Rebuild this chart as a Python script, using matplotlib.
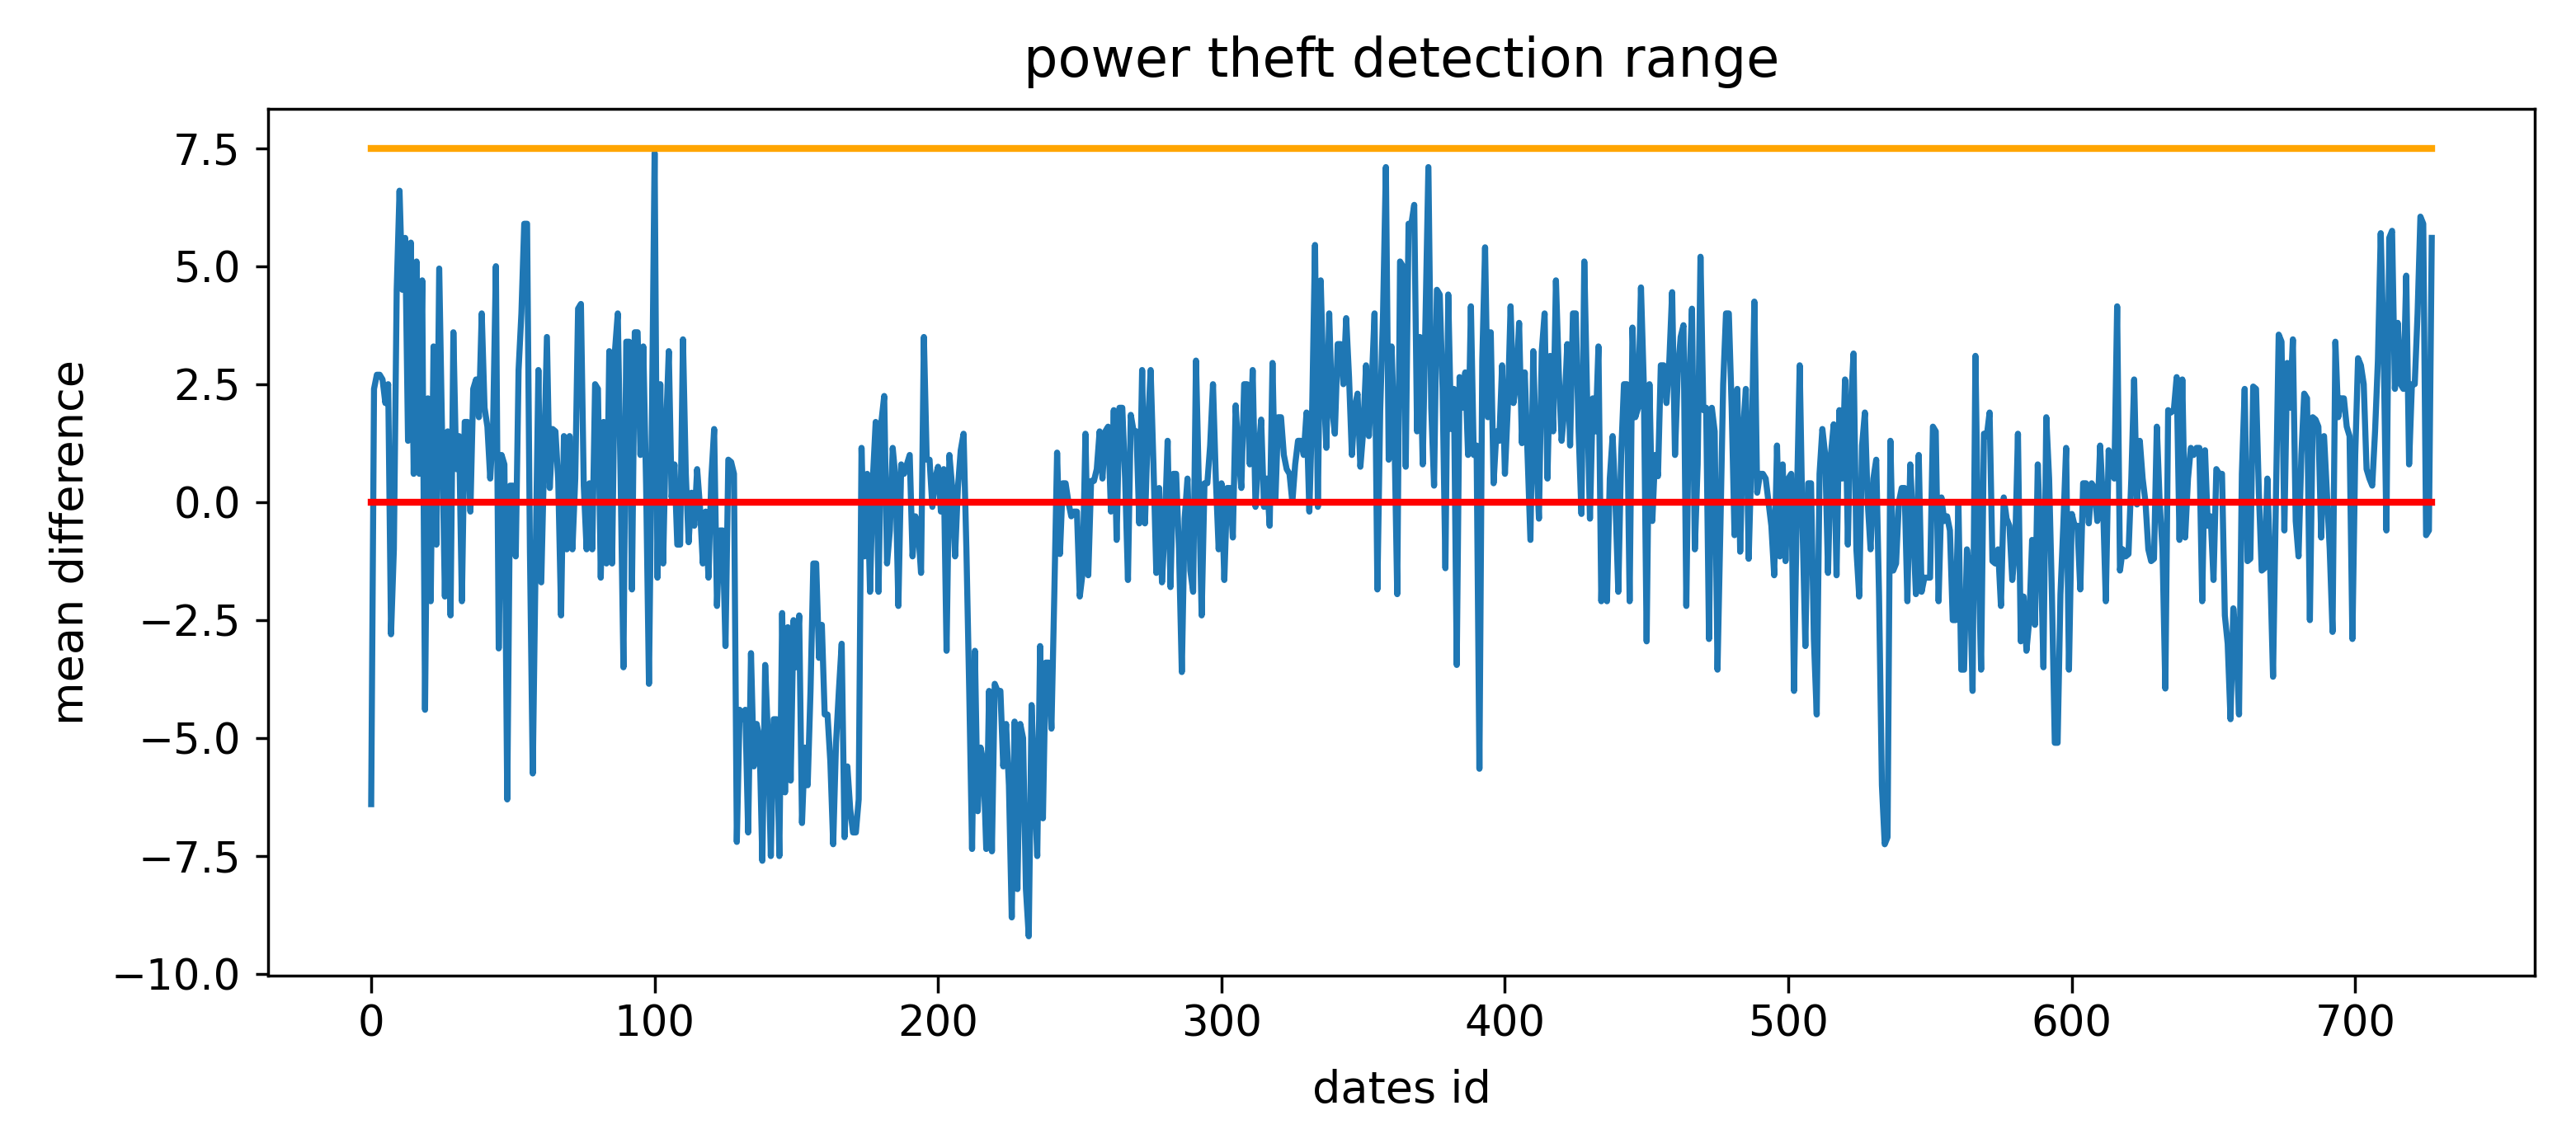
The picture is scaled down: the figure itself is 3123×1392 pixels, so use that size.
import matplotlib
matplotlib.use("Agg")
import matplotlib.pyplot as plt

# mean difference per date id (728 points)
mean_diff = [
    # 0 - 91
    -6.4, 2.4, 2.7, 2.7, 2.6, 2.1, 2.5, -2.8, -1.0, 4.5,
    6.6, 4.5, 5.6, 1.3, 5.5, 0.6, 5.1, 0.6, 4.7, -4.4,
    2.2, -2.1, 3.3, -0.9, 4.95, 1.5, -2.0, 1.5, -2.4, 3.6,
    0.7, 1.4, -2.1, 1.7, 1.7, -0.2, 2.4, 2.6, 1.8, 4.0,
    2.0, 1.6, 0.5, 1.6, 5.0, -3.1, 1.0, 0.8, -6.3, 0.35,
    0.35, -1.15, 2.8, 4.0, 5.9, 5.9, -1.0, -5.75, -1.3, 2.8,
    -1.7, 0.9, 3.5, 0.3, 1.55, 1.5, 0.45, -2.4, 1.4, -1.0,
    1.4, -1.0, 0.5, 4.1, 4.2, 0.35, -1.0, 0.4, -1.0, 2.5,
    2.4, -1.6, 1.7, -1.3, 3.2, -1.3, 3.2, 4.0, 0.5, -3.5,
    3.4, 3.4,
    # 92 - 183
    -1.85, 3.6, 3.6, 1.0, 3.3, 0.35, -3.85, 1.5, 7.4, -1.6,
    2.5, -1.3, 1.5, 3.2, 0.1, 0.8, -0.9, -0.9, 3.45, 0.6,
    -0.85, 0.2, -0.5, 0.7, -0.1, -1.3, -0.2, -1.6, 0.5, 1.55,
    -2.2, -0.6, -0.6, -3.05, 0.9, 0.85, 0.6, -7.2, -4.4, -4.6,
    -4.4, -7.0, -3.2, -5.6, -4.7, -5.0, -7.6, -3.45, -5.0, -7.5,
    -4.6, -4.6, -7.5, -2.35, -6.15, -2.65, -5.9, -2.5, -3.5, -2.4,
    -6.8, -5.2, -6.0, -4.0, -1.3, -1.3, -3.3, -2.6, -4.5, -4.5,
    -5.5, -7.25, -5.1, -4.0, -3.0, -7.1, -5.6, -6.5, -7.0, -7.0,
    -6.3, 1.15, -1.15, 0.6, -1.9, 0.5, 1.7, -1.9, 1.7, 2.25,
    -1.3, -0.6,
    # 184 - 272
    1.15, 0.5, -2.2, 0.8, 0.6, 0.8, 1.0, -1.15, -0.3, -0.6,
    -1.5, 3.5, 0.9, 0.9, -0.1, 0.5, 0.75, -0.2, 0.7, -3.15,
    1.0, 0.3, -1.15, 0.3, 1.1, 1.45, -1.0, -4.0, -7.35, -3.15,
    -6.55, -5.2, -5.5, -7.35, -4.0, -7.4, -3.85, -4.0, -4.0, -5.6,
    -4.7, -6.0, -8.8, -4.65, -8.2, -4.7, -5.0, -8.2, -9.2, -4.3,
    -6.0, -7.5, -3.05, -6.7, -3.4, -3.4, -4.8, -2.0, 1.05, -1.1,
    0.4, 0.4, 0.0, -0.3, -0.2, -0.2, -2.0, -1.5, 1.45, -1.55,
    0.45, 0.45, 0.7, 1.5, 0.5, 1.5, 1.6, -0.2, 1.95, -0.8,
    2.0, 2.0, 0.5, -1.65, 1.85, 1.5, 1.5, -0.45, 2.8,
    # 273 - 365
    -0.45, 1.5, 2.8, 0.8, -1.5, 0.3, -1.7, -0.5, 1.3, -1.8,
    0.6, 0.6, -1.0, -3.6, -0.35, 0.5, -1.45, -1.9, 3.0, 0.4,
    -2.4, 0.4, 0.4, 1.2, 2.5, 0.5, -1.0, 0.4, -1.65, 0.3,
    0.3, -0.75, 2.05, 1.0, 0.3, 2.5, 2.5, 0.8, 2.8, -0.1,
    1.0, 1.75, -0.1, 0.5, -0.5, 2.95, 0.0, 1.8, 1.8, 1.0,
    0.7, 0.6, 0.0, 0.8, 1.3, 1.3, 1.0, 1.9, -0.2, 2.0,
    5.45, -0.1, 4.7, 2.5, 1.15, 4.0, 2.0, 1.45, 3.35, 3.35,
    2.5, 3.9, 2.65, 1.0, 2.0, 2.3, 0.75, 1.5, 2.9, 1.4,
    2.5, 4.0, -1.85, 1.95, 4.0, 7.1, 0.9, 3.3, 1.5, -1.95,
    5.1, 5.0, 0.75,
    # 366 - 456
    5.9, 5.9, 6.3, 1.5, 3.5, 0.8, 4.0, 7.1, 2.0, 0.35,
    4.5, 4.4, 2.4, -1.4, 4.4, 1.55, 2.4, -3.45, 2.65, 2.0,
    2.75, 1.0, 4.15, 1.0, 1.2, -5.65, 3.0, 5.4, 1.8, 3.6,
    0.4, 1.5, 1.3, 2.9, 0.6, 2.0, 4.15, 2.1, 2.5, 3.8,
    1.25, 2.75, 1.0, -0.8, 3.2, 1.0, -0.35, 3.2, 4.0, 0.5,
    3.1, 1.5, 4.7, 2.75, 1.3, 2.0, 3.35, 1.2, 4.0, 4.0,
    1.5, -0.25, 5.1, 2.2, -0.35, 2.2, 1.5, 3.3, -2.1, 0.0,
    -2.1, 0.5, 1.4, 0.0, -1.9, 1.0, 2.5, 2.5, -2.1, 3.7,
    1.8, 2.0, 4.55, 2.5, -2.95, 2.5, -0.4, 1.0, 0.55, 2.9,
    2.9,
    # 457 - 547
    2.1, 3.0, 4.45, 1.0, 2.75, 3.5, 3.75, -2.2, 2.5, 4.1,
    -1.0, 0.8, 5.2, 1.95, 2.0, -2.9, 2.0, 1.5, -3.55, -0.6,
    2.5, 4.0, 4.0, 2.0, -0.7, 2.4, -1.05, 1.5, 2.4, -1.2,
    1.0, 4.25, 0.2, 0.6, 0.6, 0.5, 0.0, -0.5, -1.55, 1.2,
    -1.15, 0.8, -1.25, 0.5, 0.6, -4.0, 0.0, 2.9, -0.5, -3.05,
    0.4, 0.4, -2.9, -4.5, 0.6, 1.55, 1.0, -1.5, 1.0, 1.65,
    -1.55, 1.95, 0.5, 2.6, -0.9, 2.0, 3.15, -1.0, -2.0, 1.2,
    1.9, 0.0, -1.0, 0.5, 0.9, -2.0, -6.0, -7.25, -7.1, 1.3,
    -1.45, -1.3, 0.0, 0.3, 0.3, -2.1, 0.8, -0.5, -1.95, 1.0,
    -1.9,
    # 548 - 638
    -1.6, -1.6, -1.6, 1.6, 1.5, -2.1, 0.1, -0.4, -0.3, -0.6,
    -2.5, -2.5, 0.0, -3.55, -3.55, -1.0, -1.5, -4.0, 3.1, -1.0,
    -3.55, 1.45, 1.4, 1.9, -1.25, -1.3, -1.0, -2.2, 0.1, -0.35,
    -0.5, -1.65, -1.0, 1.45, -2.95, -2.0, -3.15, -2.5, -0.8, -2.6,
    0.8, -1.0, -3.5, 1.8, 0.5, -2.0, -5.1, -5.1, -1.95, -0.5,
    1.15, -3.55, -0.25, -0.5, -0.5, -1.85, 0.4, 0.4, -0.45, 0.4,
    0.3, -0.4, 1.2, 0.0, -2.1, 1.1, 0.7, 0.5, 4.15, -1.45,
    -1.0, -1.15, -1.1, 0.5, 2.6, -0.05, 1.3, 0.5, 0.0, -1.0,
    -1.25, -1.2, 1.6, 0.0, -1.0, -3.95, 1.95, 1.9, 1.95, 2.65,
    -0.8,
    # 639 - 727
    2.6, -0.75, 0.5, 1.15, 1.0, 1.15, 1.15, -2.1, 1.1, -0.5,
    -0.3, -1.65, 0.7, 0.6, 0.6, -2.4, -3.0, -4.6, -2.25, -3.0,
    -4.5, 0.6, 2.4, -1.25, -1.2, 2.45, 2.4, 0.2, -1.45, -1.4,
    0.5, -1.4, -3.7, 0.0, 3.55, 3.4, -0.6, 2.95, 2.0, 3.45,
    -0.4, -1.15, 1.0, 2.3, 2.2, -2.5, 1.8, 1.75, 1.6, -0.75,
    1.4, 0.2, -1.0, -2.75, 3.4, 1.8, 2.2, 2.2, 1.6, 1.4,
    -2.9, 1.0, 3.05, 2.9, 2.5, 0.7, 0.5, 0.35, 1.5, 3.0,
    5.7, 3.35, -0.6, 5.6, 5.75, 2.4, 3.8, 2.5, 2.4, 4.8,
    0.8, 2.5, 2.5, 4.0, 6.05, 5.9, -0.7, -0.6, 5.6,
]

upper_limit = 7.5
lower_limit = 0.0

dates_id = list(range(len(mean_diff)))

fig = plt.figure(figsize=(31.23, 13.92), dpi=100)
ax = fig.add_axes([0.1041, 0.1501, 0.8799, 0.7551])

ax.plot(dates_id, mean_diff, color='#1f77b4', linewidth=5.3)
ax.plot(dates_id, [upper_limit] * len(dates_id), color='orange', linewidth=6)
ax.plot(dates_id, [lower_limit] * len(dates_id), color='red', linewidth=6)

ax.set_title('power theft detection range', fontsize=47, pad=28)
ax.set_xlabel('dates id', fontsize=39, labelpad=20)
ax.set_ylabel('mean difference', fontsize=39, labelpad=16)

ax.tick_params(axis='both', labelsize=37, width=2.5)
ax.tick_params(axis='y', length=11, pad=13)
ax.tick_params(axis='x', length=15, pad=10)
for s in ax.spines.values():
    s.set_linewidth(2.5)

fig.savefig('out.png', dpi=100)
